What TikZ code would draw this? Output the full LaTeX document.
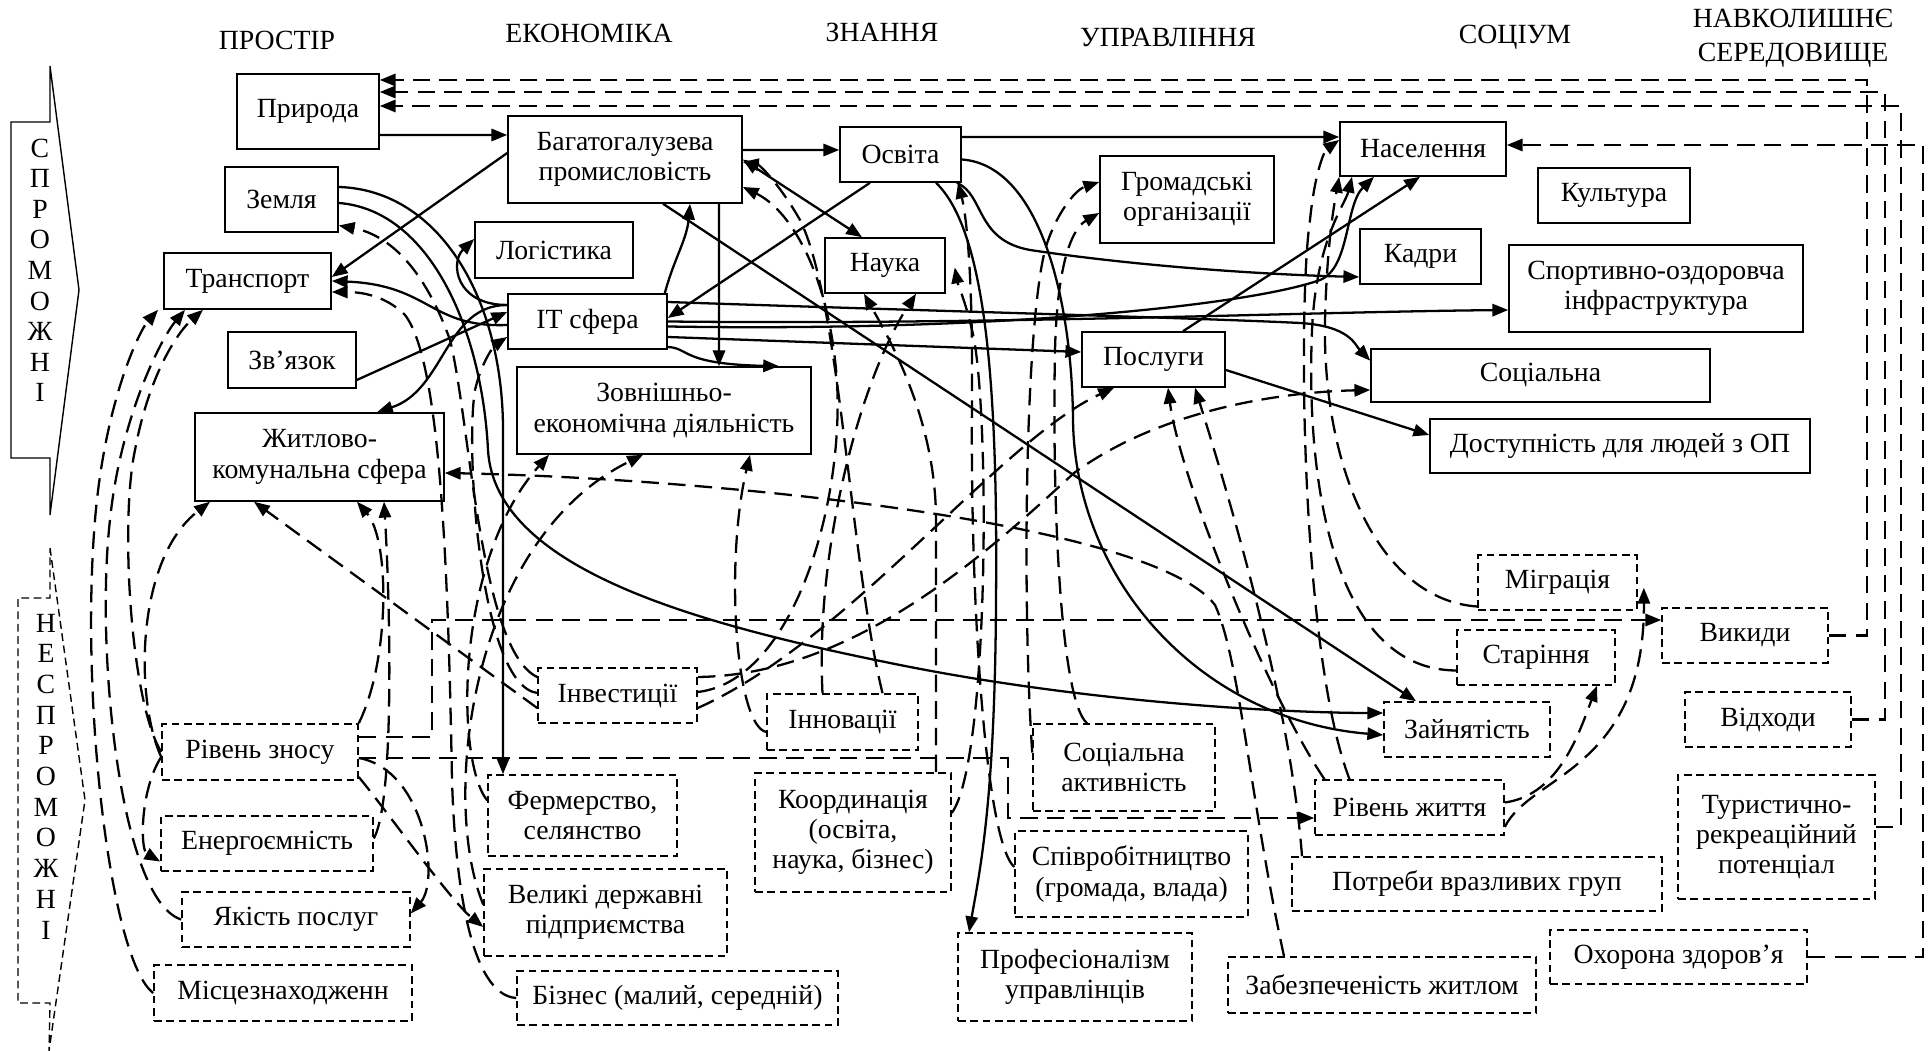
\documentclass[tikz,border=0pt]{standalone}
\usepackage{fontspec}
\setmainfont{Liberation Serif}
\usetikzlibrary{arrows.meta}

\begin{document}
\begin{tikzpicture}[x=0.1mm, y=-0.1mm,
    font=\fontsize{7.9}{8.6}\selectfont,
    >={Triangle[length=4.5pt,width=3.5pt]},
    box/.style={draw, line width=0.45pt, inner sep=0pt, align=center},
    dbox/.style={box, dash pattern=on 2.2pt off 1.3pt},
    con/.style={line width=0.65pt, ->},
    dcon/.style={con, dash pattern=on 5pt off 2.6pt},
    hdr/.style={inner sep=0pt, align=center}]
  \useasboundingbox (0,0) rectangle (1930,1051);

  \node[hdr] (hprost) at (277,40) {ПРОСТІР};
  \node[hdr] (hekon) at (589,33) {ЕКОНОМІКА};
  \node[hdr] (hznan) at (882,32) {ЗНАННЯ};
  \node[hdr] (hupr) at (1168,37) {УПРАВЛІННЯ};
  \node[hdr] (hsoc) at (1515,37) {СОЦІУМ};
  \node[hdr] (hnavk) at (1793,38) {НАВКОЛИШНЄ\\[1pt]СЕРЕДОВИЩЕ};

  \draw[line width=0.4pt] (50,66) -- (79,290) -- (50,515) -- (50,458) -- (11,458) -- (11,122) -- (50,122) -- cycle;
  \foreach \l [count=\i from 0] in {С,П,Р,О,М,О,Ж,Н,І}
    \node (sp\i) at (40,148+30.6*\i) {\l};
  \draw[line width=0.4pt, dash pattern=on 2.2pt off 1.3pt] (50,548) -- (85,800) -- (49,1051) -- (50,1003) -- (18,1003) -- (18,598) -- (50,598) -- cycle;
  \foreach \l [count=\i from 0] in {Н,Е,С,П,Р,О,М,О,Ж,Н,І}
    \node (nsp\i) at (46,623+30.7*\i) {\l};

  \node[box, minimum width=14.2mm, minimum height=7.5mm] (prir) at (308,111.5) {Природа};
  \node[box, minimum width=11.3mm, minimum height=6.5mm] (zem) at (281.5,199.5) {Земля};
  \node[box, minimum width=16.7mm, minimum height=5.6mm] (trans) at (247.5,281) {Транспорт};
  \node[box, minimum width=12.8mm, minimum height=5.6mm] (zvy) at (292,360) {Зв’язок};
  \node[box, minimum width=15.8mm, minimum height=5.6mm] (log) at (554,250) {Логістика};
  \node[box, minimum width=23.4mm, minimum height=8.7mm] (prom) at (625,159.5) {Багатогалузева\\промисловість};
  \node[box, minimum width=15.9mm, minimum height=5.5mm] (it) at (587.5,321.5) {IT сфера};
  \node[box, minimum width=29.4mm, minimum height=8.7mm] (zed) at (664,410.5) {Зовнішньо-\\економічна діяльність};
  \node[box, minimum width=24.9mm, minimum height=8.8mm] (zhk) at (319.5,457) {Житлово-\\комунальна сфера};
  \node[box, minimum width=12.1mm, minimum height=5.5mm] (osv) at (900.5,154.5) {Освіта};
  \node[box, minimum width=12mm, minimum height=5.5mm] (nauka) at (885,265.5) {Наука};
  \node[box, minimum width=17.4mm, minimum height=8.7mm] (grom) at (1187,199.5) {Громадські\\організації};
  \node[box, minimum width=14.3mm, minimum height=5.5mm] (posl) at (1153.5,359.5) {Послуги};
  \node[box, minimum width=16.6mm, minimum height=5.4mm] (nasel) at (1423,149) {Населення};
  \node[box, minimum width=15.2mm, minimum height=5.5mm] (kult) at (1614,195.5) {Культура};
  \node[box, minimum width=12.1mm, minimum height=5.5mm] (kadry) at (1420.5,256.5) {Кадри};
  \node[box, minimum width=29.4mm, minimum height=8.7mm] (sport) at (1656,288.5) {Спортивно-оздоровча\\інфраструктура};
  \node[box, minimum width=33.9mm, minimum height=5.3mm] (soc) at (1540.5,375.5) {Соціальна};
  \node[box, minimum width=38mm, minimum height=5.4mm] (dost) at (1620,446) {Доступність для людей з ОП};

  \node[dbox, minimum width=15.9mm, minimum height=5.5mm] (migr) at (1557.5,582.5) {Міграція};
  \node[dbox, minimum width=16.6mm, minimum height=5.5mm] (vyk) at (1745,635.5) {Викиди};
  \node[dbox, minimum width=15.8mm, minimum height=5.5mm] (star) at (1536,657.5) {Старіння};
  \node[dbox, minimum width=16.6mm, minimum height=5.5mm] (vidh) at (1768,719.5) {Відходи};
  \node[dbox, minimum width=16.6mm, minimum height=5.5mm] (zain) at (1467,729.5) {Зайнятість};
  \node[dbox, minimum width=18.9mm, minimum height=5.5mm] (rzhyt) at (1409.5,807.5) {Рівень життя};
  \node[dbox, minimum width=19.7mm, minimum height=12.4mm] (tur) at (1776.5,837) {Туристично-\\рекреаційний\\потенціал};
  \node[dbox, minimum width=37mm, minimum height=5.4mm] (potr) at (1477,884) {Потреби вразливих груп};
  \node[dbox, minimum width=25.7mm, minimum height=5.4mm] (ohor) at (1678.5,957) {Охорона здоров’я};
  \node[dbox, minimum width=30.8mm, minimum height=5.6mm] (zabez) at (1382,985) {Забезпеченість житлом};
  \node[dbox, minimum width=18.2mm, minimum height=8.7mm] (sakt) at (1124,767.5) {Соціальна\\активність};
  \node[dbox, minimum width=23.3mm, minimum height=8.6mm] (spivr) at (1131.5,874) {Співробітництво\\(громада, влада)};
  \node[dbox, minimum width=23.4mm, minimum height=8.8mm] (prof) at (1075,977) {Професіоналізм\\управлінців};
  \node[dbox, minimum width=19.6mm, minimum height=11.9mm] (koord) at (853,832.5) {Координація\\(освіта,\\наука, бізнес)};
  \node[dbox, minimum width=15.1mm, minimum height=5.6mm] (innov) at (842.5,722) {Інновації};
  \node[dbox, minimum width=15.9mm, minimum height=5.5mm] (invest) at (617.5,695.5) {Інвестиції};
  \node[dbox, minimum width=19.6mm, minimum height=5.6mm] (rzn) at (260,752) {Рівень зносу};
  \node[dbox, minimum width=21.2mm, minimum height=5.5mm] (energ) at (267,843.5) {Енергоємність};
  \node[dbox, minimum width=22.8mm, minimum height=5.5mm] (yakist) at (296,919.5) {Якість послуг};
  \node[dbox, minimum width=25.8mm, minimum height=5.6mm] (misc) at (283,993) {Місцезнаходженн};
  \node[dbox, minimum width=18.9mm, minimum height=8.1mm] (ferm) at (582.5,815.5) {Фермерство,\\селянство};
  \node[dbox, minimum width=24.3mm, minimum height=8.7mm] (velyki) at (605.5,912.5) {Великі державні\\підприємства};
  \node[dbox, minimum width=32.1mm, minimum height=5.4mm] (biz) at (677.5,998) {Бізнес (малий, середній)};

  \draw[con] ([yshift=-2.35mm]prir.east) -- ([yshift=2.45mm]prom.west);
  \draw[con] ([yshift=0.65mm]prom.west) -- ([yshift=0.4mm]trans.east);
  \draw[con] ([yshift=0.95mm]prom.east) -- ([yshift=0.45mm]osv.west);
  \draw[con] ([yshift=1.75mm]osv.east) -- ([yshift=1.2mm]nasel.west);
  \draw[con, <->] (prom.east) -- ([xshift=-2.3mm]nauka.north);
  \draw[con] ([xshift=-3.05mm]osv.south) -- ([yshift=0.35mm]it.east);
  \draw[con] ([xshift=-0.3mm]it.north east) to[out=75, in=-95] ([xshift=6.5mm]prom.south);
  \draw[con] ([xshift=9.4mm]prom.south) -- ([xshift=5.5mm]zed.north);
  \draw[con] ([yshift=-2.55mm]it.east) .. controls (690,348) and (680,364) .. ([xshift=11.5mm]zed.north);
  \draw[con] ([yshift=1.65mm]it.west) .. controls (455,305) and (450,262) .. ([yshift=1.1mm]log.west);
  \draw[con] ([yshift=-2mm]zvy.east) -- ([yshift=0.95mm]it.west);
  \draw[con] ([yshift=-0.35mm]it.west) .. controls (430,328) and (430,285) .. (trans.east);
  \draw[con] ([yshift=1.65mm]it.west) .. controls (445,305) and (445,390) .. ([xshift=5.75mm]zhk.north);
  \draw[con] (it.east) .. controls (1000,325) and (1300,312) .. ([yshift=-2.15mm]sport.west);
  \draw[con] ([yshift=-0.5mm]it.east) .. controls (1000,332) and (1250,305) .. (1320,280) .. controls (1350,268) and (1345,205) .. ([xshift=-4.9mm]nasel.south);
  \draw[con] ([yshift=-1.55mm]it.east) -- ([yshift=0.75mm]posl.west);
  \draw[con] ([yshift=1.95mm]it.east) .. controls (900,310) and (1200,318) .. (1300,323) .. controls (1350,326) and (1355,345) .. ([yshift=-1.25mm]soc.north west);
  \draw[con] ([xshift=2.95mm]posl.north) -- ([xshift=-0.3mm]nasel.south);
  \draw[con] ([yshift=-1.05mm]posl.east) -- ([yshift=1.1mm]dost.west);
  \draw[con] ([xshift=3.8mm]prom.south) -- ([xshift=-5.1mm]zain.north);
  \draw[con] ([xshift=-0.5mm]osv.south east) .. controls (985,195) and (975,240) .. (1030,250) .. controls (1150,268) and (1280,275) .. ([yshift=-2.05mm]kadry.west);
  \draw[con] ([yshift=-0.5mm]osv.east) .. controls (1040,165) and (1072,300) .. (1073,420) .. controls (1075,580) and (1200,720) .. ([yshift=-0.55mm]zain.west);
  \draw[con] ([xshift=3.55mm]osv.south) .. controls (985,230) and (998,380) .. (996,600) .. controls (995,800) and (980,870) .. ([xshift=-10.6mm]prof.north);
  \draw[con] ([yshift=1.25mm]zem.east) .. controls (440,190) and (503,300) .. (503,430) -- ([xshift=-7.95mm]ferm.north);
  \draw[con] ([yshift=-0.35mm]zem.east) .. controls (430,210) and (482,330) .. (488,450) .. controls (495,570) and (700,625) .. (900,665) .. controls (1100,705) and (1300,713) .. ([yshift=1.65mm]zain.west);

  \draw[dcon] (vyk.east) -- ++(38,0) |- ([yshift=3.15mm]prir.east);
  \draw[dcon] (vidh.east) -- ++(33,0) |- ([yshift=1.95mm]prir.east);
  \draw[dcon] ([yshift=1mm]tur.east) -- ++(25,0) |- ([yshift=0.55mm]prir.east);
  \draw[dcon] (ohor.east) -- ++(115,0) |- ([yshift=0.4mm]nasel.east);
  \draw[dcon] ([xshift=-9.8mm]zabez.north) .. controls (1250,800) and (1240,660) .. (1215,605) .. controls (1150,520) and (700,478) .. ([yshift=-1.6mm]zhk.east);
  \draw[dcon] ([yshift=1.5mm]rzn.east) -- ++(73,0) |- ([yshift=1.55mm]vyk.west);
  \draw[dcon] ([yshift=-0.6mm]rzn.east) -- ++(649,0) |- ([yshift=-1.05mm]rzhyt.west);
  \draw[dcon] (misc.west) .. controls (110,960) and (80,700) .. (95,520) .. controls (105,400) and (140,330) .. ([xshift=-8.95mm]trans.south);
  \draw[dcon] (yakist.west) .. controls (120,900) and (95,650) .. (110,520) .. controls (120,420) and (160,340) .. ([xshift=-6.25mm]trans.south);
  \draw[dcon] (rzn.west) .. controls (130,700) and (120,520) .. (135,450) .. controls (150,370) and (180,330) .. ([xshift=-4.45mm]trans.south);
  \draw[dcon] ([yshift=-0.5mm]rzn.west) .. controls (140,790) and (140,850) .. ([yshift=-1.8mm]energ.west);
  \draw[dcon] ([yshift=-0.5mm]rzn.west) .. controls (135,700) and (135,560) .. ([xshift=-10.95mm]zhk.south);
  \draw[dcon] ([yshift=-0.6mm]rzn.east) .. controls (425,770) and (440,880) .. ([yshift=0.6mm]yakist.east);
  \draw[dcon] ([yshift=-2.5mm]rzn.east) .. controls (390,815) and (450,900) .. ([yshift=-1.45mm]velyki.west);
  \draw[dcon] (rzn.north east) .. controls (390,660) and (390,540) .. ([xshift=3.75mm]zhk.south);
  \draw[dcon] ([yshift=0.5mm]energ.east) .. controls (395,800) and (390,600) .. ([xshift=6.45mm]zhk.south);
  \draw[dcon] ([yshift=-1.25mm]invest.west) -- ([xshift=-6.55mm]zhk.south);
  \draw[dcon] ([yshift=1.85mm]invest.west) .. controls (480,650) and (470,420) .. (450,340) .. controls (425,270) and (390,235) .. ([yshift=-2.6mm]zem.east);
  \draw[dcon] ([yshift=0.25mm]invest.west) .. controls (480,685) and (465,450) .. (475,390) .. controls (482,360) and (495,345) .. ([yshift=-1.55mm]it.west);
  \draw[dcon] (biz.west) .. controls (470,995) and (455,880) .. (452,780) .. controls (448,560) and (440,360) .. (405,315) .. controls (385,295) and (360,292) .. ([yshift=-1.1mm]trans.east);
  \draw[dcon] ([yshift=1.5mm]ferm.west) .. controls (455,760) and (455,560) .. ([xshift=-11.5mm]zed.south);
  \draw[dcon] ([yshift=0.8mm]velyki.west) .. controls (440,800) and (470,540) .. ([xshift=-2.1mm]zed.south);
  \draw[dcon] ([yshift=-1mm]innov.west) .. controls (735,725) and (725,560) .. ([xshift=8.6mm]zed.south);
  \draw[dcon] ([yshift=1.85mm]invest.east) .. controls (850,675) and (980,560) .. (1074,473) .. controls (1160,410) and (1280,392) .. ([yshift=-1.45mm]soc.west);
  \draw[dcon] ([yshift=0.35mm]invest.east) .. controls (800,680) and (850,480) .. (835,360) .. controls (825,270) and (790,210) .. ([yshift=-2.75mm]prom.east);
  \draw[dcon] ([xshift=4mm]innov.north) .. controls (850,560) and (840,300) .. (800,220) .. controls (780,185) and (760,165) .. ([yshift=-0.25mm]prom.east);
  \draw[dcon] ([xshift=-2mm]innov.north) .. controls (815,550) and (860,380) .. ([xshift=3.1mm]nauka.south);
  \draw[dcon] ([xshift=8.3mm]koord.north) -- (936,520) .. controls (936,420) and (890,340) .. ([xshift=-2.1mm]nauka.south);
  \draw[dcon] ([yshift=1.95mm]koord.east) .. controls (990,760) and (990,400) .. (972,330) .. controls (965,300) and (958,285) .. ([xshift=0.9mm,yshift=-0.2mm]nauka.east);
  \draw[dcon] ([yshift=0.7mm]spivr.west) .. controls (985,840) and (970,600) .. (972,400) .. controls (973,260) and (965,210) .. ([xshift=5.75mm]osv.south);
  \draw[dcon] ([yshift=1.5mm]sakt.west) .. controls (1022,600) and (1025,330) .. (1045,250) .. controls (1055,215) and (1075,190) .. ([yshift=1.75mm]grom.west);
  \draw[dcon] ([xshift=-3.7mm]sakt.north) .. controls (1060,700) and (1052,500) .. (1055,350) .. controls (1057,270) and (1070,230) .. ([yshift=-1.35mm]grom.west);
  \draw[dcon] ([xshift=-8.5mm]rzhyt.north) .. controls (1270,700) and (1180,480) .. ([xshift=1.45mm]posl.south);
  \draw[dcon] ([xshift=-17.5mm]potr.north) .. controls (1290,700) and (1230,500) .. ([xshift=4.15mm]posl.south);
  \draw[dcon] ([yshift=-1.25mm]invest.east) .. controls (850,640) and (1000,440) .. ([xshift=-3.95mm]posl.south);
  \draw[dcon] ([yshift=-2.4mm]migr.west) .. controls (1380,600) and (1322,470) .. (1325,320) .. controls (1327,240) and (1335,200) .. (nasel.south west);
  \draw[dcon] ([yshift=-1.3mm]star.west) .. controls (1340,670) and (1305,500) .. (1312,330) .. controls (1316,240) and (1345,205) .. ([xshift=-7.1mm]nasel.south);
  \draw[dcon] ([xshift=-6mm]rzhyt.north) .. controls (1300,650) and (1298,300) .. (1310,220) .. controls (1315,170) and (1325,150) .. ([yshift=0.9mm]nasel.west);
  \draw[dcon] ([yshift=-1.95mm]rzhyt.east) .. controls (1530,775) and (1645,770) .. ([xshift=0.6mm,yshift=2.3mm]migr.south east);
  \draw[dcon] ([yshift=0.5mm]rzhyt.east) .. controls (1560,795) and (1580,730) .. ([xshift=6.1mm]star.south);
\end{tikzpicture}
\end{document}
